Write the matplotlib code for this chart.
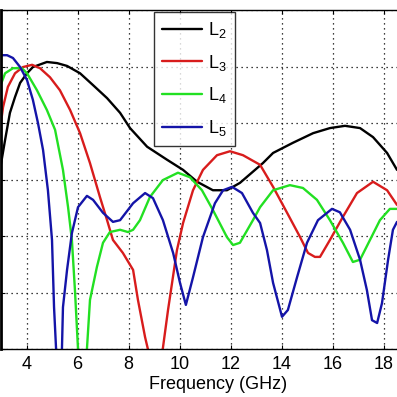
import matplotlib
matplotlib.use("Agg")
import matplotlib.pyplot as plt

plt.rcParams['font.family'] = ['Liberation Sans', 'DejaVu Sans']
plt.rcParams['mathtext.fontset'] = 'custom'
plt.rcParams['mathtext.rm'] = 'Liberation Sans'

labels = [r'$\mathregular{L_2}$', r'$\mathregular{L_3}$', r'$\mathregular{L_4}$', r'$\mathregular{L_5}$']
colors = ['#000000', '#d81c1c', '#22e022', '#1414a8']

l2_f = [2.96, 3.16, 3.35, 3.55, 3.75, 4.02, 4.25, 4.80, 5.20, 5.59, 6.10, 6.61, 7.16, 7.67, 8.06,
        8.73, 9.51, 10.14, 10.69, 11.31, 11.86, 12.37, 13.27, 13.67, 14.45, 15.24, 15.90, 16.49,
        17.08, 17.59, 18.14, 18.53]
l2_v = [3.17, 3.70, 4.18, 4.46, 4.71, 4.88, 4.99, 5.08, 5.06, 5.01, 4.88, 4.67, 4.44, 4.18, 3.91,
        3.58, 3.35, 3.17, 2.96, 2.81, 2.81, 2.94, 3.29, 3.47, 3.65, 3.82, 3.91, 3.95,
        3.91, 3.75, 3.47, 3.17]

l3_f = [2.96, 3.08, 3.27, 3.55, 3.86, 4.22, 4.53, 4.92, 5.31, 5.71, 6.10, 6.49, 6.88, 7.16, 7.39,
        7.78, 8.18, 8.37, 8.65, 8.76, 9.06, 9.35, 9.55, 9.90, 10.14, 10.53, 10.92, 11.47, 11.98,
        12.49, 13.16, 13.67, 14.22, 14.73, 15.04, 15.31, 15.51, 15.90, 16.41, 16.96, 17.59,
        18.14, 18.53]
l3_v = [3.88, 4.28, 4.64, 4.88, 4.99, 5.03, 4.97, 4.81, 4.58, 4.23, 3.82, 3.29, 2.69, 2.28, 1.93,
        1.70, 1.40, 0.87, 0.21, 0.0, -0.7, 0.02, 0.69, 1.75, 2.23, 2.81, 3.17, 3.43, 3.50,
        3.43, 3.26, 2.87, 2.41, 1.98, 1.70, 1.63, 1.63, 1.93, 2.34, 2.76, 2.96,
        2.81, 2.55]

l4_f = [2.96, 3.16, 3.47, 3.82, 4.02, 4.41, 4.80, 5.12, 5.43, 5.63, 5.78, 5.90, 6.02, 6.20, 6.37,
        6.49, 6.76, 7.00, 7.27, 7.67, 7.98, 8.18, 8.45, 8.84, 9.35, 9.94, 10.41, 10.88, 11.31,
        11.86, 12.10, 12.37, 12.88, 13.16, 13.67, 14.33, 14.84, 15.39, 15.90, 16.41, 16.80,
        17.08, 17.47, 17.86, 18.25, 18.53]
l4_v = [4.64, 4.88, 4.97, 4.97, 4.88, 4.58, 4.23, 3.88, 3.17, 2.51, 1.93, 1.04, 0.0, -0.8, 0.0,
        0.87, 1.45, 1.88, 2.07, 2.11, 2.07, 2.11, 2.28, 2.69, 2.99, 3.12, 3.04, 2.81, 2.46,
        1.98, 1.84, 1.88, 2.28, 2.51, 2.81, 2.90, 2.85, 2.64, 2.28, 1.88, 1.54,
        1.58, 1.93, 2.28, 2.48, 2.48]

l5_f = [2.96, 3.24, 3.47, 3.75, 4.02, 4.25, 4.45, 4.65, 4.84, 5.00, 5.08, 5.16, 5.27, 5.39, 5.43,
        5.59, 5.78, 6.02, 6.37, 6.61, 7.00, 7.39, 7.67, 8.18, 8.65, 8.96, 9.35, 9.75, 10.02,
        10.25, 10.53, 10.92, 11.39, 11.71, 12.06, 12.45, 12.88, 13.16, 13.43, 13.67, 14.02,
        14.25, 14.61, 15.00, 15.43, 15.98, 16.29, 16.69, 17.08, 17.35, 17.55, 17.75, 17.94,
        18.18, 18.37, 18.53]
l5_v = [5.20, 5.20, 5.15, 4.99, 4.76, 4.41, 4.00, 3.52, 2.81, 1.93, 0.74, 0.0, -0.8, 0.0, 0.74,
        1.40, 2.05, 2.51, 2.71, 2.64, 2.41, 2.25, 2.28, 2.58, 2.76, 2.67, 2.28, 1.70, 1.17,
        0.78, 1.27, 1.98, 2.58, 2.81, 2.87, 2.76, 2.41, 2.23, 1.75, 1.17, 0.57,
        0.69, 1.27, 1.88, 2.28, 2.48, 2.42, 2.11, 1.58, 1.04, 0.51, 0.46, 0.81,
        1.58, 2.11, 2.25]

x_ticks = [4, 6, 8, 10, 12, 14, 16, 18]
y_ticks = [0, 1, 2, 3, 4, 5, 6]

fig = plt.figure(figsize=(3.97, 3.97), dpi=100)
W = H = 397.0
# axes runs past the right edge of the (cropped) figure
ax = fig.add_axes([1 / W, (H - 349) / H, (17 * 25.5) / W, (349 - 10) / H])

series = [(l2_f, l2_v), (l3_f, l3_v), (l4_f, l4_v), (l5_f, l5_v)]
for (f, v), c, lab in zip(series, colors, labels):
    ax.plot(f, v, color=c, lw=1.7, label=lab, solid_joinstyle='round', solid_capstyle='round')

ax.set_xlim(3.0, 20.0)
ax.set_ylim(0, 6)
ax.set_xticks(x_ticks)
ax.set_xticklabels([str(t) for t in x_ticks], fontsize=13)
ax.set_yticks(y_ticks)
ax.set_yticklabels([])
ax.tick_params(direction='in', length=3, width=0.8, top=True, right=False, pad=5)
ax.grid(True, color='black', linestyle=(0, (1, 3)), linewidth=0.9)
ax.spines['left'].set_linewidth(2.0)
for s in ['top', 'bottom']:
    ax.spines[s].set_linewidth(1.0)
ax.spines['right'].set_visible(False)
ax.set_xlabel('Frequency (GHz)', fontsize=13, labelpad=2)

leg = ax.legend(loc='upper left', bbox_to_anchor=(154 / W, 1 - 12 / H),
                bbox_transform=fig.transFigure, fontsize=13, frameon=True, fancybox=False,
                edgecolor='black', handlelength=2.2, handletextpad=0.35, labelspacing=0.7,
                borderaxespad=0, borderpad=0.45)
leg.get_frame().set_linewidth(1.0)

fig.savefig('out.png', dpi=100)
